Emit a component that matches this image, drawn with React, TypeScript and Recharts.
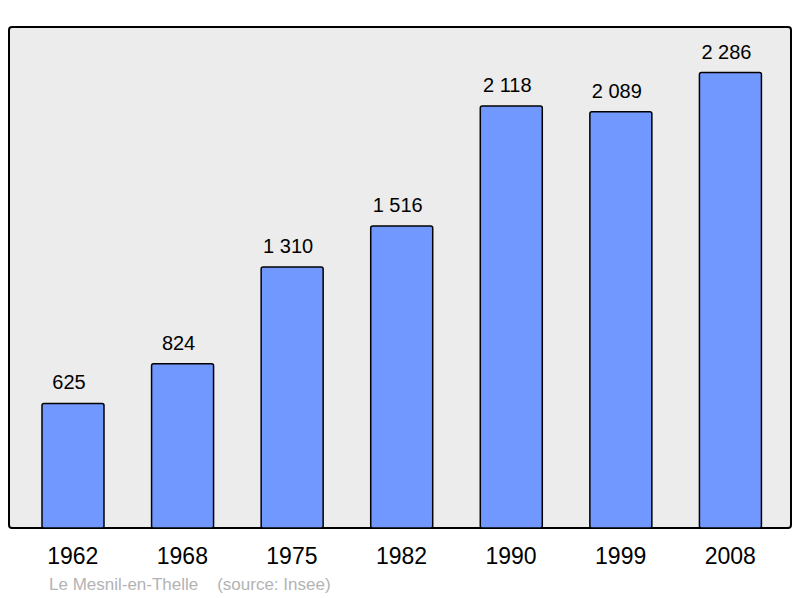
import { BarChart, Bar, XAxis, YAxis, LabelList } from 'recharts'

// Population par recensement
const years = ['1962', '1968', '1975', '1982', '1990', '1999', '2008']
const population = [625, 824, 1310, 1516, 2118, 2089, 2286]

const data = years.map((year, i) => ({ year, pop: population[i] }))

const fmt = (v: any) => String(v).replace(/\B(?=(\d{3})+(?!\d))/g, ' ')

const FONT = '"Liberation Sans", Arial, sans-serif'

export default function App() {
  return (
    <div style={{ position: 'absolute', left: 0, top: 0, width: 800, height: 598, fontFamily: FONT }}>
      {/* cadre du graphique */}
      <div
        style={{
          position: 'absolute',
          left: 8,
          top: 26,
          width: 780,
          height: 499,
          background: '#ececec',
          border: '2px solid #000',
          borderRadius: 4,
        }}
      />
      <div style={{ position: 'absolute', left: 0, top: 0 }}>
        <BarChart
          width={800}
          height={598}
          data={data}
          margin={{ top: 27, right: 9, bottom: 40, left: 9 }}
          barSize={62}
        >
          <YAxis hide domain={[0, 2515]} />
          <XAxis
            dataKey="year"
            height={30}
            axisLine={false}
            tickLine={false}
            tickSize={0}
            tickMargin={20}
            padding={{ left: 9, right: 6 }}
            tick={{ fill: '#000', fontSize: 23, fontFamily: FONT }}
          />
          <Bar dataKey="pop" fill="#7098ff" stroke="#000" strokeWidth={1.5} radius={2} isAnimationActive={false}>
            <LabelList
              dataKey="pop"
              position="top"
              offset={14}
              dx={-4}
              formatter={fmt}
              style={{ fill: '#000', fontSize: 20, fontFamily: FONT }}
            />
          </Bar>
        </BarChart>
      </div>
      <div style={{ position: 'absolute', left: 49, top: 575, fontSize: 17, color: '#b3b3b3', whiteSpace: 'pre' }}>
        {'Le Mesnil-en-Thelle    (source: Insee)'}
      </div>
    </div>
  )
}
